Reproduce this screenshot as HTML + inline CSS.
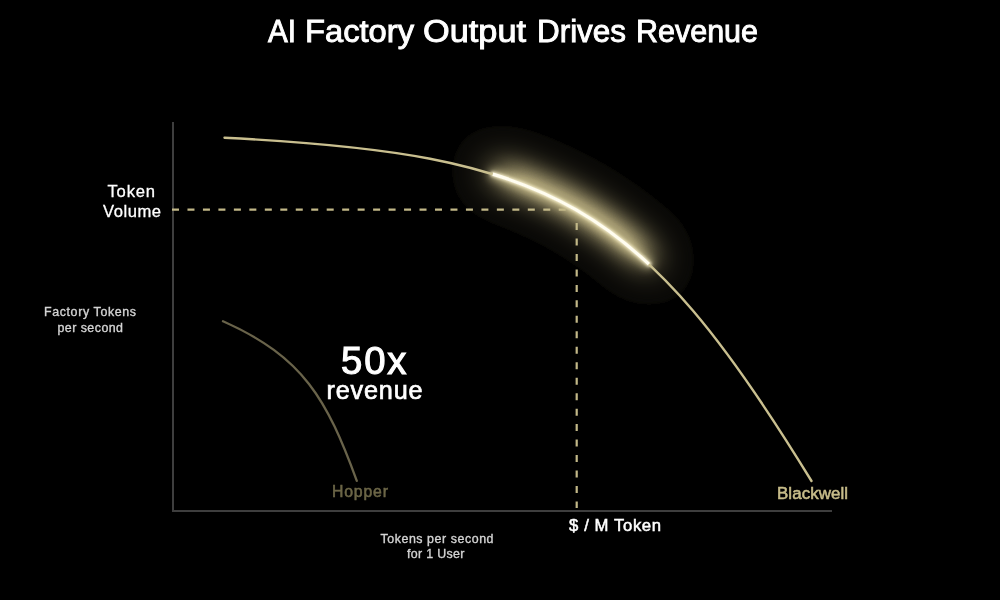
<!DOCTYPE html>
<html><head><meta charset="utf-8">
<style>
html,body{margin:0;padding:0;background:#000;width:1000px;height:600px;overflow:hidden}
svg{display:block}
text{font-family:"Liberation Sans",sans-serif}
</style></head>
<body>
<div style="will-change:transform">
<svg width="1000" height="600" viewBox="0 0 1000 600">
<defs>
<filter id="bean" filterUnits="userSpaceOnUse" x="300" y="0" width="550" height="450"><feGaussianBlur stdDeviation="21"/><feComponentTransfer><feFuncA type="table" tableValues="0.0000 0.0000 0.0000 0.0000 0.0000 0.0525 0.0547 0.0568 0.0590 0.0613 0.0637 0.0661 0.0686 0.0712 0.0739 0.0767 0.0796 0.0826 0.0858 0.0890 0.0924 0.0959 0.0996 0.1034 0.1073 0.1114 0.1157 0.1201 0.1247 0.1295 0.1344 0.1395 0.1449 0.1504 0.1561 0.1620 0.1681 0.1745 0.1810 0.1878 0.1948 0.2020 0.2095 0.2172 0.2252 0.2334 0.2419 0.2506 0.2596 0.2689 0.2784 0.2882 0.2983 0.3087 0.3193 0.3303 0.3416 0.3531 0.3650 0.3772 0.3897 0.4025 0.4157 0.4291 0.4430 0.4571 0.4716 0.4864 0.5016 0.5172 0.5331 0.5493 0.5660 0.5830 0.6004 0.6181 0.6363 0.6548 0.6737 0.6930 0.7128 0.7329 0.7534 0.7743 0.7957 0.8175 0.8397 0.8500 0.8500 0.8500 0.8500 0.8500 0.8500 0.8500 0.8500 0.8500 0.8500 0.8500 0.8500 0.8500 0.8500 0.8500 0.8500 0.8500 0.8500 0.8500 0.8500 0.8500 0.8500 0.8500 0.8500 0.8500 0.8500 0.8500 0.8500 0.8500 0.8500 0.8500 0.8500 0.8500 0.8500 0.8500 0.8500 0.8500 0.8500 0.8500 0.8500 0.8500 0.8500 0.8500 0.8500 0.8500 0.8500 0.8500 0.8500 0.8500 0.8500 0.8500 0.8500 0.8500 0.8500 0.8500 0.8500 0.8500 0.8500 0.8500 0.8500 0.8500 0.8500 0.8500 0.8500 0.8500 0.8500 0.8500 0.8500 0.8500 0.8500 0.8500 0.8500 0.8500 0.8500 0.8500 0.8500 0.8500 0.8500 0.8500 0.8500 0.8500 0.8500 0.8500 0.8500 0.8500 0.8500 0.8500 0.8500 0.8500 0.8500 0.8500 0.8500 0.8500 0.8500 0.8500 0.8500 0.8500 0.8500 0.8500 0.8500 0.8500 0.8500 0.8500 0.8500 0.8500 0.8500 0.8500 0.8500 0.8500 0.8500 0.8500 0.8500 0.8500 0.8500"/></feComponentTransfer></filter><filter id="g1" filterUnits="userSpaceOnUse" x="300" y="0" width="550" height="450"><feGaussianBlur stdDeviation="5"/></filter><filter id="g2" filterUnits="userSpaceOnUse" x="300" y="0" width="550" height="450"><feGaussianBlur stdDeviation="1.8"/></filter>
</defs>
<rect width="1000" height="600" fill="#000"/>
<g transform="translate(2 -3)"><path d="M492.8,174.1 C553.5,192.8 602.5,220.9 648.9,264.2" fill="none" stroke="#b4a87a" stroke-width="24" stroke-linecap="round" filter="url(#bean)"/></g><path d="M492.8,174.1 C553.5,192.8 602.5,220.9 648.9,264.2" fill="none" stroke="#dcd19c" stroke-width="7" stroke-linecap="round" filter="url(#g1)"/><path d="M492.8,174.1 C553.5,192.8 602.5,220.9 648.9,264.2" fill="none" stroke="#f6eecc" stroke-width="5" stroke-linecap="round" filter="url(#g2)"/>
<path d="M173,122 V511 H832" fill="none" stroke="#3e3e3e" stroke-width="2"/>
<path d="M172,209.7 H566" fill="none" stroke="#c2b888" stroke-width="2.2" stroke-dasharray="7 8.47"/>
<path d="M576.7,223 V508" fill="none" stroke="#c2b888" stroke-width="2.2" stroke-dasharray="7 8.47"/>
<path d="M224.5,137.7 C551.9,154.4 639,199 811.5,481" fill="none" stroke="#c9bf8f" stroke-width="2.4" stroke-linecap="round"/>
<path d="M492.8,174.1 C553.5,192.8 602.5,220.9 648.9,264.2" fill="none" stroke="#fffdf0" stroke-width="3.2" stroke-linecap="butt"/>
<path d="M223,321.3 C303.9,357.1 326.8,399.5 356.8,480.8" fill="none" stroke="#69634a" stroke-width="2.3" stroke-linecap="round"/>
<text x="268.00" y="42.20" font-size="30.60" fill="#ffffff" stroke="#ffffff" stroke-width="0.9" textLength="28.00" lengthAdjust="spacingAndGlyphs">AI</text>
<text x="305.00" y="42.20" font-size="30.60" fill="#ffffff" stroke="#ffffff" stroke-width="0.9" textLength="109.00" lengthAdjust="spacingAndGlyphs">Factory</text>
<text x="423.00" y="42.20" font-size="30.60" fill="#ffffff" stroke="#ffffff" stroke-width="0.9" textLength="103.00" lengthAdjust="spacingAndGlyphs">Output</text>
<text x="537.00" y="42.20" font-size="30.60" fill="#ffffff" stroke="#ffffff" stroke-width="0.9" textLength="89.00" lengthAdjust="spacingAndGlyphs">Drives</text>
<text x="636.00" y="42.20" font-size="30.60" fill="#ffffff" stroke="#ffffff" stroke-width="0.9" textLength="122.00" lengthAdjust="spacingAndGlyphs">Revenue</text>
<text x="107.50" y="197.00" font-size="16.60" fill="#ffffff" stroke="#ffffff" stroke-width="0.3" textLength="47.50" lengthAdjust="spacing">Token</text>
<text x="103.00" y="217.00" font-size="16.60" fill="#ffffff" stroke="#ffffff" stroke-width="0.3" textLength="58.00" lengthAdjust="spacing">Volume</text>
<text x="44.00" y="316.00" font-size="12.40" fill="#d4d4d4" stroke="#d4d4d4" stroke-width="0.35" textLength="92.00" lengthAdjust="spacing">Factory Tokens</text>
<text x="57.50" y="331.50" font-size="12.40" fill="#d4d4d4" stroke="#d4d4d4" stroke-width="0.35" textLength="65.50" lengthAdjust="spacing">per second</text>
<text x="341.00" y="373.60" font-size="38.30" fill="#ffffff" stroke="#ffffff" stroke-width="1.1" textLength="65.50" lengthAdjust="spacing">50x</text>
<text x="326.50" y="399.40" font-size="25.20" fill="#ffffff" stroke="#ffffff" stroke-width="0.7" textLength="96.00" lengthAdjust="spacing">revenue</text>
<text x="332.00" y="496.80" font-size="15.80" fill="#6c6647" stroke="#6c6647" stroke-width="0.55" textLength="56.00" lengthAdjust="spacing">Hopper</text>
<text x="777.00" y="498.90" font-size="16.90" fill="#c8bd8a" stroke="#c8bd8a" stroke-width="0.55" textLength="71.00" lengthAdjust="spacing">Blackwell</text>
<text x="569.00" y="530.50" font-size="16.70" fill="#ffffff" stroke="#ffffff" stroke-width="0.5" textLength="92.00" lengthAdjust="spacing">$ / M Token</text>
<text x="380.50" y="543.00" font-size="12.40" fill="#d4d4d4" stroke="#d4d4d4" stroke-width="0.35" textLength="113.00" lengthAdjust="spacing">Tokens per second</text>
<text x="407.00" y="558.30" font-size="12.40" fill="#d4d4d4" stroke="#d4d4d4" stroke-width="0.35" textLength="57.50" lengthAdjust="spacing">for 1 User</text>
</svg>
</div>
</body></html>
